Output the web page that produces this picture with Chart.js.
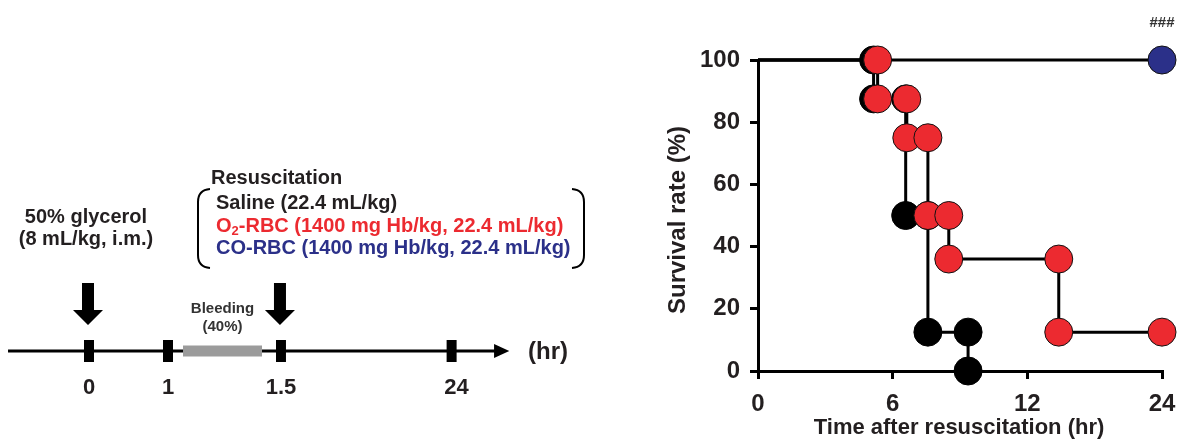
<!DOCTYPE html>
<html>
<head>
<meta charset="utf-8">
<script src="https://cdn.jsdelivr.net/npm/chart.js@4"></script>
<style>
  html, body { margin: 0; padding: 0; background: #fff; }
  #wrap { position: relative; width: 1180px; height: 443px; overflow: hidden; }
  #timeline { position: absolute; left: 0; top: 0; }
  #survival { position: absolute; left: 620px; top: 0; }
</style>
</head>
<body>
<div id="wrap">
  <canvas id="timeline" width="620" height="443"></canvas>
  <canvas id="survival" width="560" height="443"></canvas>
</div>
<script>
// ---- left panel: protocol timeline ----
const timeLabels = ['0', '1', '1.5', '24'];
const bleedingText = ['Bleeding', '(40%)'];
const glycerolText = ['50% glycerol', '(8 mL/kg, i.m.)'];
const resusTitle = 'Resuscitation';
const groupNames = ['Saline', 'O2-RBC', 'CO-RBC'];
const groupDoses = ['(22.4 mL/kg)', '(1400 mg Hb/kg, 22.4 mL/kg)', '(1400 mg Hb/kg, 22.4 mL/kg)'];

// ---- right panel: survival after resuscitation (hr, %) ----
const salineHours = [0, 5.15, 5.15, 6.58, 6.58, 7.57, 7.57, 9.36, 9.36];
const salineSurvival = [100, 100, 87.5, 87.5, 50, 50, 12.5, 12.5, 0];
const o2Hours = [0, 5.33, 5.33, 6.63, 6.63, 7.57, 7.57, 8.5, 8.5, 14.8, 14.8, 24];
const o2Survival = [100, 100, 87.5, 87.5, 75, 75, 50, 50, 36, 36, 12.5, 12.5];
const coHours = [0, 24];
const coSurvival = [100, 100];
const xTickLabels = ['0', '6', '12', '24'];
const significance = '###';

const FONT = '"Liberation Sans", Arial, sans-serif';
const ink = '#231f20';
const red = '#ec2a30';
const navy = '#2b3089';

Chart.defaults.font.family = FONT;
Chart.defaults.font.weight = 'bold';
Chart.defaults.color = ink;

/* ---------- timeline ---------- */

// schematic layout of the timeline (not to scale)
const tlOrigin = 89, tlUnit = 79, tlY = 351;
const timePos = [0, 1, 2.43, 4.59];
const lineStart = -1.025, lineEnd = 5.14, arrowTip = 5.32;
const bleedFrom = 1.19, bleedTo = 2.19;

const timelineDeco = {
  id: 'timelineDeco',
  afterDraw(chart) {
    const { ctx } = chart;
    const xs = chart.scales.x;
    const ys = chart.scales.y;
    const px = v => xs.getPixelForValue(v);
    const ty = ys.getPixelForValue(tlY);
    ctx.save();
    ctx.fillStyle = '#000';

    // arrow head at end of time axis
    ctx.beginPath();
    ctx.moveTo(px(lineEnd) - 1, ty - 7);
    ctx.lineTo(px(arrowTip), ty);
    ctx.lineTo(px(lineEnd) - 1, ty + 7);
    ctx.closePath();
    ctx.fill();

    // big down arrows at glycerol (0) and resuscitation (1.5)
    [timePos[0], timePos[2]].forEach(p => {
      const cx = px(p) - 1;
      ctx.beginPath();
      ctx.moveTo(cx - 6, 283);
      ctx.lineTo(cx + 6, 283);
      ctx.lineTo(cx + 6, 310);
      ctx.lineTo(cx + 15, 310);
      ctx.lineTo(cx, 325);
      ctx.lineTo(cx - 15, 310);
      ctx.lineTo(cx - 6, 310);
      ctx.closePath();
      ctx.fill();
    });

    ctx.fillStyle = ink;
    ctx.textBaseline = 'middle';

    // tick labels
    ctx.textAlign = 'center';
    ctx.font = 'bold 22px ' + FONT;
    timeLabels.forEach((t, i) => ctx.fillText(t, px(timePos[i]) + (i === 3 ? 5 : 0), 388));
    ctx.textAlign = 'left';
    ctx.font = 'bold 24px ' + FONT;
    ctx.fillText('(hr)', 528, 352);

    // bleeding label
    ctx.textAlign = 'center';
    ctx.fillStyle = '#333';
    ctx.font = 'bold 15px ' + FONT;
    const bx = (px(bleedFrom) + px(bleedTo)) / 2;
    ctx.fillText(bleedingText[0], bx, 309);
    ctx.fillText(bleedingText[1], bx, 327);

    // glycerol label
    ctx.fillStyle = ink;
    ctx.font = 'bold 20px ' + FONT;
    ctx.fillText(glycerolText[0], 86, 217);
    ctx.fillText(glycerolText[1], 86, 239);

    // resuscitation block
    ctx.textAlign = 'left';
    ctx.fillText(resusTitle, 211, 178);
    const colors = [ink, red, navy];
    const rowY = [203, 226, 248];
    groupNames.forEach((g, i) => {
      ctx.fillStyle = colors[i];
      let x = 216;
      if (g === 'O2-RBC') {
        ctx.font = 'bold 20px ' + FONT;
        ctx.fillText('O', x, rowY[i]);
        x += ctx.measureText('O').width;
        ctx.font = 'bold 13px ' + FONT;
        ctx.fillText('2', x, rowY[i] + 5);
        x += ctx.measureText('2').width;
        ctx.font = 'bold 20px ' + FONT;
        ctx.fillText('-RBC ' + groupDoses[i], x, rowY[i]);
      } else {
        ctx.font = 'bold 20px ' + FONT;
        ctx.fillText(g + ' ' + groupDoses[i], x, rowY[i]);
      }
    });

    // brackets
    ctx.strokeStyle = '#000';
    ctx.lineWidth = 2;
    ctx.beginPath();
    ctx.moveTo(210, 189);
    ctx.quadraticCurveTo(198, 190, 198, 202);
    ctx.lineTo(198, 255);
    ctx.quadraticCurveTo(198, 267, 210, 268);
    ctx.stroke();
    ctx.beginPath();
    ctx.moveTo(572, 189);
    ctx.quadraticCurveTo(584, 190, 584, 202);
    ctx.lineTo(584, 255);
    ctx.quadraticCurveTo(584, 267, 572, 268);
    ctx.stroke();
    ctx.restore();
  }
};

new Chart(document.getElementById('timeline'), {
  type: 'scatter',
  data: {
    datasets: [
      {
        data: timePos.map(p => ({ x: p, y: tlY })),
        pointStyle: 'line', rotation: 90, pointRadius: 11,
        pointBorderWidth: 10, borderColor: '#000', backgroundColor: '#000'
      },
      {
        data: [{ x: bleedFrom, y: tlY }, { x: bleedTo, y: tlY }],
        showLine: true, borderColor: '#9b9b9b', borderWidth: 11, pointRadius: 0
      },
      {
        data: [{ x: lineStart, y: tlY }, { x: lineEnd, y: tlY }],
        showLine: true, borderColor: '#000', borderWidth: 3, pointRadius: 0
      }
    ]
  },
  options: {
    responsive: false,
    animation: false,
    layout: { padding: 0, autoPadding: false },
    plugins: { legend: { display: false }, tooltip: { enabled: false } },
    scales: {
      x: { type: 'linear', display: false, min: -tlOrigin / tlUnit, max: (620 - tlOrigin) / tlUnit },
      y: { type: 'linear', display: false, min: 0, max: 443, reverse: true }
    }
  },
  plugins: [timelineDeco]
});

/* ---------- survival curve ---------- */

// 0-12 hr drawn to scale, 12-24 hr compressed into the last segment
const axisX = h => (h <= 12 ? h : 12 + (h - 12) / 2);
const toPoints = (hours, surv) => hours.map((h, i) => ({ x: axisX(h), y: surv[i] }));
const markerRadius = ctx => (ctx.dataIndex === 0 ? 0 : 14);

const survivalTitles = {
  id: 'survivalTitles',
  afterDraw(chart) {
    const { ctx, chartArea: a } = chart;
    ctx.save();
    ctx.fillStyle = ink;
    ctx.textAlign = 'center';
    ctx.textBaseline = 'middle';
    ctx.font = 'bold 22px ' + FONT;
    ctx.fillText('Time after resuscitation (hr)', 339, 428);
    ctx.font = 'bold 15px ' + FONT;
    ctx.fillStyle = '#333';
    ctx.fillText(significance, a.right, 23);
    ctx.translate(58, 220);
    ctx.rotate(-Math.PI / 2);
    ctx.fillStyle = ink;
    ctx.font = 'bold 24px ' + FONT;
    ctx.fillText('Survival rate (%)', 0, 0);
    ctx.restore();
  }
};

new Chart(document.getElementById('survival'), {
  type: 'line',
  data: {
    datasets: [
      {
        label: 'O2-RBC', data: toPoints(o2Hours, o2Survival),
        borderColor: '#000', borderWidth: 3, tension: 0,
        pointBackgroundColor: red, pointBorderColor: '#111', pointBorderWidth: 1,
        pointRadius: markerRadius, clip: false
      },
      {
        label: 'Saline', data: toPoints(salineHours, salineSurvival),
        borderColor: '#000', borderWidth: 3, tension: 0,
        pointBackgroundColor: '#000', pointBorderColor: '#000', pointBorderWidth: 1,
        pointRadius: markerRadius, clip: false
      },
      {
        label: 'CO-RBC', data: toPoints(coHours, coSurvival),
        borderColor: '#000', borderWidth: 3, tension: 0,
        pointBackgroundColor: navy, pointBorderColor: '#111', pointBorderWidth: 1,
        pointRadius: markerRadius, clip: false
      }
    ]
  },
  options: {
    responsive: false,
    animation: false,
    layout: { padding: { top: 60, right: 18, left: 0, bottom: 0 }, autoPadding: false },
    plugins: { legend: { display: false }, tooltip: { enabled: false } },
    scales: {
      x: {
        type: 'linear', min: 0, max: axisX(24),
        afterBuildTicks: s => { s.ticks = xTickLabels.map(l => ({ value: axisX(Number(l)) })); },
        afterFit: s => { s.height = 72; s.paddingLeft = 0; s.paddingRight = 0; },
        ticks: { callback: (v, i) => xTickLabels[i], font: { size: 24, weight: 'bold' }, color: ink, padding: 11, maxRotation: 0 },
        grid: { drawOnChartArea: false, drawTicks: true, tickLength: 8, lineWidth: 3, color: '#000' },
        border: { display: true, width: 3, color: '#000' }
      },
      y: {
        type: 'linear', min: 0, max: 100,
        afterFit: s => { s.width = 138; s.paddingTop = 0; s.paddingBottom = 0; },
        ticks: { stepSize: 20, font: { size: 24, weight: 'bold' }, color: ink, padding: 10 },
        grid: { drawOnChartArea: false, drawTicks: true, tickLength: 8, lineWidth: 3, color: '#000' },
        border: { display: true, width: 3, color: '#000' }
      }
    }
  },
  plugins: [survivalTitles]
});
</script>
</body>
</html>
